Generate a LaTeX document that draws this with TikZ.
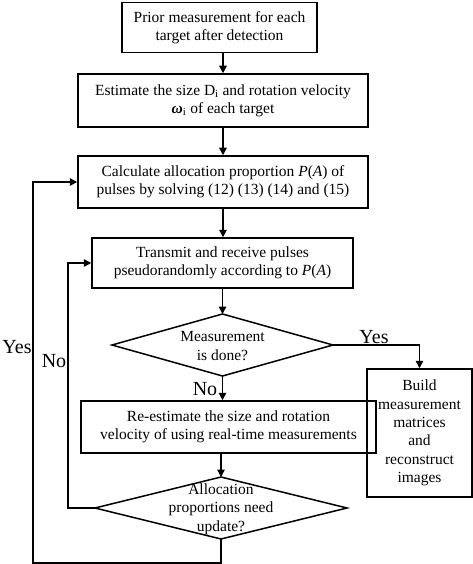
\documentclass[tikz,border=0pt]{standalone}
\usepackage{fontspec}
\setmainfont{Liberation Serif}
\usetikzlibrary{arrows.meta}
\begin{document}
\begin{tikzpicture}[x=1pt,y=-1pt,
  every node/.style={font=\fontsize{15.5}{18.3}\selectfont, inner sep=0pt},
  box/.style={draw, line width=1.5pt, align=center},
  lbl/.style={font=\fontsize{20}{22}\selectfont},
  conn/.style={line width=1.5pt},
  arr/.style={conn, -{Triangle[length=7.5pt,width=7.5pt]}}]
\useasboundingbox (0,0) rectangle (473,564);
% boxes
\node[box, minimum width=195pt, minimum height=50pt] (b1) at (219.5,27.5)
  {Prior measurement for each\\target after detection};
\node[box, minimum width=290pt, minimum height=53pt] (b2) at (223,100.5)
  {Estimate the size D\textsubscript{i} and rotation velocity\\\textbf{\textit{ω}}\textsubscript{i} of each target};
\node[box, minimum width=290pt, minimum height=52pt] (b3) at (223,182)
  {Calculate allocation proportion \textit{P}(\textit{A}) of\\pulses by solving (12) (13) (14) and (15)};
\node[box, minimum width=261pt, minimum height=50pt] (b4) at (222.5,263)
  {Transmit and receive pulses\\pseudorandomly according to \textit{P}(\textit{A})};
% diamond 1
\node[align=center] (d1) at (222.5,346) {Measurement\\is done?};
\coordinate (d1t) at (222.5,314);
\coordinate (d1r) at (333,345);
\coordinate (d1b) at (222.5,376);
\coordinate (d1l) at (112,345);
\draw[conn, line join=miter] (d1t) -- (d1r) -- (d1b) -- (d1l) -- cycle;
\node[box, minimum width=105pt, minimum height=128pt] (b5) at (419.5,433)
  {Build\\measurement\\matrices\\and\\reconstruct\\images};
\node[box, minimum width=295pt, minimum height=52pt] (b6) at (228.5,427)
  {Re-estimate the size and rotation\\velocity of using real-time measurements};
% diamond 2
\node[align=center] (d2) at (221,509) {Allocation\\proportions need\\update?};
\coordinate (d2t) at (221,477);
\coordinate (d2r) at (347,508);
\coordinate (d2b) at (221,539);
\coordinate (d2l) at (95,508);
\draw[conn, line join=miter] (d2t) -- (d2r) -- (d2b) -- (d2l) -- cycle;
% connectors
\draw[arr] (b1.south -| b2) -- (b2.north);
\draw[arr] (b2.south) -- (b3.north);
\draw[arr] (b3.south) -- (b3.south |- b4.north);
\draw[arr] (b4.south -| d1t) -- (d1t);
\draw[arr] (d1r) -| (b5.north);
\draw[arr] (d1b) -- (d1b |- b6.north);
\draw[arr] (d2t |- b6.south) -- (d2t);
\coordinate (noX) at (68,508);
\coordinate (yesY) at (221,563);
\draw[arr] (d2l) -- (noX) |- (b4.west);
\draw[arr] (d2b) -- (yesY) -| (33,182) -- (b3.west);
% labels
\node[lbl] (lyes1) at (374,337) {Yes};
\node[lbl] (lno1) at (205,389) {No};
\node[lbl] (lyes2) at (17,347) {Yes};
\node[lbl] (lno2) at (54,361) {No};
\end{tikzpicture}
\end{document}
